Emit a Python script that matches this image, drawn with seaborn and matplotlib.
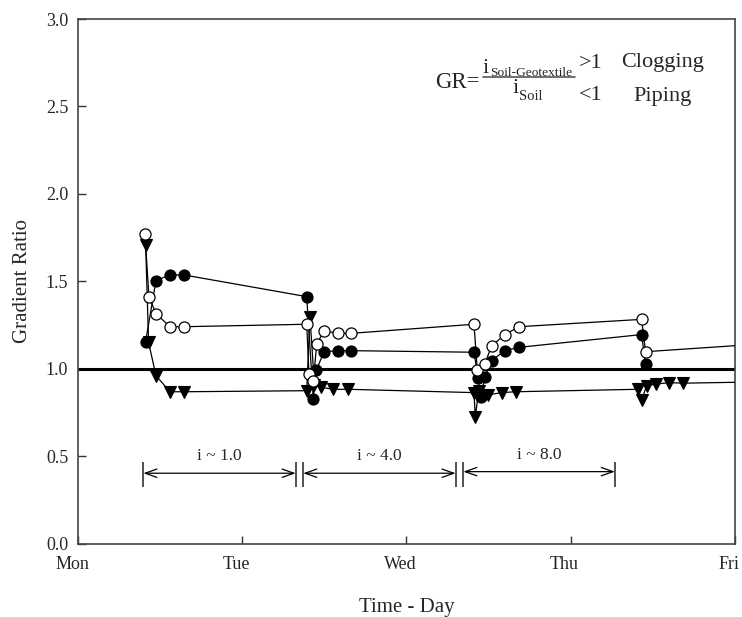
import matplotlib
matplotlib.use("Agg")
import matplotlib.pyplot as plt
import matplotlib.transforms as mtransforms
import seaborn as sns
import pandas as pd

# ---- data (days since Monday, gradient ratio) ----
open_x = [0.408, 0.432, 0.475, 0.560, 0.646, 1.393, 1.407, 1.433, 1.454, 1.498, 1.585, 1.663,
          2.412, 2.432, 2.477, 2.519, 2.600, 2.686, 3.433, 3.457, 4.500]
open_y = [1.770, 1.412, 1.315, 1.240, 1.240, 1.254, 0.970, 0.930, 1.139, 1.216, 1.202, 1.202,
          1.254, 0.993, 1.025, 1.130, 1.195, 1.240, 1.282, 1.097, 1.163]

filled_x = [0.412, 0.475, 0.560, 0.646, 1.393, 1.433, 1.452, 1.498, 1.585, 1.663,
            2.412, 2.438, 2.452, 2.479, 2.519, 2.600, 2.686, 3.433, 3.457]
filled_y = [1.155, 1.504, 1.536, 1.536, 1.412, 0.827, 0.991, 1.097, 1.103, 1.103,
            1.094, 0.945, 0.836, 0.954, 1.046, 1.103, 1.122, 1.195, 1.025]

tri_x = [0.412, 0.430, 0.475, 0.560, 0.646, 1.393, 1.413, 1.440, 1.478, 1.555, 1.646,
         2.412, 2.420, 2.440, 2.499, 2.580, 2.666, 3.412, 3.433, 3.463, 3.520, 3.601, 3.686, 4.500]
tri_y = [1.708, 1.150, 0.960, 0.868, 0.868, 0.874, 1.297, 0.905, 0.894, 0.882, 0.882,
         0.863, 0.725, 0.870, 0.850, 0.863, 0.868, 0.882, 0.821, 0.901, 0.912, 0.920, 0.917, 0.930]

day_ticks = [0, 1, 2, 3, 4]
day_labels = ["Mon", "Tue", "Wed", "Thu", "Fri"]
y_ticks = [0.0, 0.5, 1.0, 1.5, 2.0, 2.5, 3.0]

# gradient stages: (start, end, label)
stage_start = [0.398, 1.372, 2.347]
stage_end = [1.326, 2.300, 3.270]
stage_label = ["i ~ 1.0", "i ~ 4.0", "i ~ 8.0"]
stage_arrow_y = [0.402, 0.402, 0.411]

sns.set_theme(style="white")
plt.rcParams["font.family"] = ["Liberation Serif", "DejaVu Serif"]

W, H = 742, 617
fig = plt.figure(figsize=(W / 100, H / 100), dpi=100)
ax = fig.add_axes([78 / W, 1 - 543.5 / H, (734.7 - 78) / W, (543.5 - 19) / H])

df_open = pd.DataFrame({"t": open_x, "gr": open_y})
df_fill = pd.DataFrame({"t": filled_x, "gr": filled_y})
df_tri = pd.DataFrame({"t": tri_x, "gr": tri_y})

common = dict(estimator=None, sort=False, color="black", linewidth=0.9, ax=ax, legend=False)
sns.lineplot(data=df_tri, x="t", y="gr", marker="v", markersize=9, markerfacecolor="black",
             markeredgecolor="black", markeredgewidth=0.8, zorder=3, **common)
sns.lineplot(data=df_fill, x="t", y="gr", marker="o", markersize=8, markerfacecolor="black",
             markeredgecolor="black", markeredgewidth=0.8, zorder=4, **common)
sns.lineplot(data=df_open, x="t", y="gr", marker="o", markersize=8, markerfacecolor="white",
             markeredgecolor="black", markeredgewidth=0.9, zorder=5, **common)

ax.axhline(1.0, color="black", linewidth=2.2, zorder=2)

# stage annotations
for s, e, lab, ya in zip(stage_start, stage_end, stage_label, stage_arrow_y):
    ax.annotate("", xy=(e, ya), xytext=(s, ya),
                arrowprops=dict(arrowstyle="<->,head_length=0.7,head_width=0.25",
                                color="black", lw=0.9, shrinkA=0, shrinkB=0))
    ax.vlines([s, e], 0.325, 0.468, color="#333333", linewidth=1.2)
    ax.text((s + e) / 2, ya + 0.073, lab, ha="center", va="baseline", fontsize=12.5)

ax.set_xlim(0, 4)
ax.set_ylim(0, 3)
ax.set_xticks(day_ticks)
ax.set_xticklabels(day_labels)
ax.set_yticks(y_ticks)
ax.set_yticklabels([f"{v:.1f}" for v in y_ticks])
ax.tick_params(axis="both", direction="in", length=6, width=1, color="#333333",
               labelsize=13, top=False, right=False, bottom=True, left=True)
ax.tick_params(axis="x", pad=9)
ax.tick_params(axis="y", pad=7)
shift = mtransforms.ScaledTranslation(-6 / 100, 0, fig.dpi_scale_trans)
for lbl in ax.get_xticklabels():
    lbl.set_transform(lbl.get_transform() + shift)
for sp in ax.spines.values():
    sp.set_color("#444444")
    sp.set_linewidth(1.2)
    sp.set_visible(True)

ax.set_xlabel("Time - Day", fontsize=15, labelpad=18)
ax.set_ylabel("Gradient Ratio", fontsize=15, labelpad=10)

# formula box text (figure pixel positions)
def ft(x, y, s, size, **kw):
    fig.text(x / W, 1 - y / H, s, fontsize=size, va="baseline", ha="left", **kw)

ft(435, 88, "GR=", 16.5)
ft(483, 73.3, "i", 16)
ft(490.5, 75.5, "Soil-Geotextile", 9.6)
fig.add_artist(plt.Line2D([483 / W, 575 / W], [1 - 76.5 / H, 1 - 76.5 / H],
                          color="#555555", linewidth=1.2))
ft(512.5, 93, "i", 16)
ft(518.5, 99.5, "Soil", 10.5)
ft(579, 67.5, ">1", 16)
ft(621.5, 67.5, "Clogging", 16)
ft(579, 100.5, "<1", 16)
ft(633, 100.5, "Piping", 16)

fig.savefig("out.png", dpi=100)
